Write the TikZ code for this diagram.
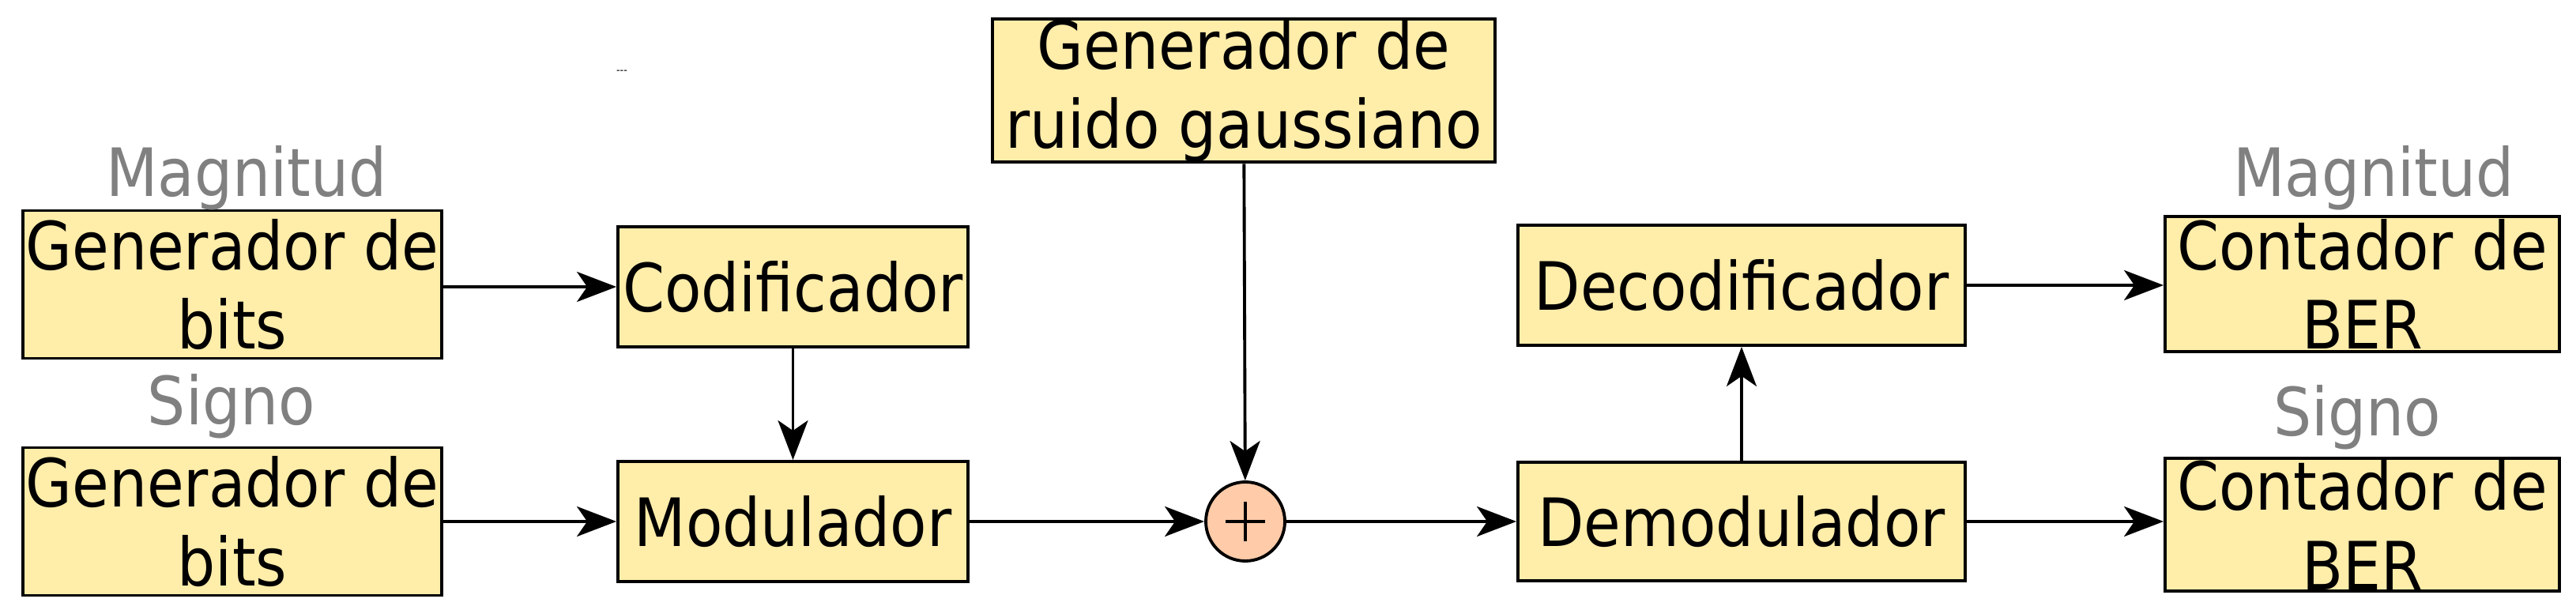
\documentclass[tikz,border=0pt]{standalone}
\usepackage{fontspec}
\setmainfont[FakeStretch=0.9]{DejaVu Sans}
\usepackage{tikz}
\usetikzlibrary{positioning, shapes, arrows.meta, calc}

\definecolor{bloque}{HTML}{FFEDAA}
\definecolor{suma}{HTML}{FFCBA9}
\definecolor{etiq}{HTML}{808080}

\tikzset{
  bloque/.style={draw, line width=1.1pt, fill=bloque, inner sep=0pt, align=center,
    font=\fontsize{24}{28.5}\selectfont},
  sumador/.style={draw, line width=1.1pt, fill=suma, circle, minimum size=1.0cm, inner sep=0pt},
  etiqueta/.style={text=etiq, inner sep=0pt, font=\fontsize{24}{28.5}\selectfont},
  flecha/.style={line width=1.1pt, -{Stealth[length=5mm, width=3.8mm, inset=1.3mm]}}
}

\begin{document}
\begin{tikzpicture}

\useasboundingbox (0,0) rectangle (32.6,-7.72);

% Transmisor
\node[bloque, minimum width=5.30cm, minimum height=1.87cm] (genMag) at (2.94,-3.60) {Generador de\\bits};
\node[bloque, minimum width=5.30cm, minimum height=1.87cm] (genSig) at (2.94,-6.60) {Generador de\\bits};
\node[etiqueta] (lblMagTx) at (3.12,-2.25) {Magnitud};
\node[etiqueta] (lblSigTx) at (2.93,-5.14) {Signo};
\node[bloque, minimum width=4.43cm, minimum height=1.52cm] (codif) at (10.035,-3.63) {Codificador};
\node[bloque, minimum width=4.43cm, minimum height=1.52cm] (modul) at (10.035,-6.60) {Modulador};
\node[font=\fontsize{4}{4}\selectfont, inner sep=0pt] (marca) at (7.87,-0.91) {-{}-{}-};

% Canal
\node[bloque, minimum width=6.36cm, minimum height=1.79cm] (ruido) at (15.74,-1.145) {Generador de\\ruido gaussiano};
\node[sumador] (suma) at (15.76,-6.60) {};
\draw[line width=0.9pt] ($(suma)+(-0.25,0)$) -- ($(suma)+(0.25,0)$);
\draw[line width=0.9pt] ($(suma)+(0,-0.25)$) -- ($(suma)+(0,0.25)$);

% Receptor
\node[bloque, minimum width=5.66cm, minimum height=1.52cm] (decod) at (22.04,-3.61) {Decodificador};
\node[bloque, minimum width=5.66cm, minimum height=1.50cm] (demod) at (22.04,-6.60) {Demodulador};
\node[bloque, minimum width=4.99cm, minimum height=1.71cm] (berMag) at (29.895,-3.595) {Contador de\\BER};
\node[bloque, minimum width=4.99cm, minimum height=1.68cm] (berSig) at (29.895,-6.64) {Contador de\\BER};
\node[etiqueta] (lblMagRx) at (30.04,-2.25) {Magnitud};
\node[etiqueta] (lblSigRx) at (29.83,-5.28) {Signo};

% Conexiones
\draw[flecha] (genMag.east |- codif) -- (codif.west);
\draw[flecha] (genSig.east |- modul) -- (modul.west);
\draw[flecha] (codif) -- (modul);
\draw[flecha] (modul) -- (suma);
\draw[flecha] (ruido) -- (suma);
\draw[flecha] (suma) -- (demod);
\draw[flecha] (demod) -- (decod);
\draw[flecha] (decod.east) -- (berMag.west |- decod);
\draw[flecha] (demod.east) -- (berSig.west |- demod);

\end{tikzpicture}
\end{document}
